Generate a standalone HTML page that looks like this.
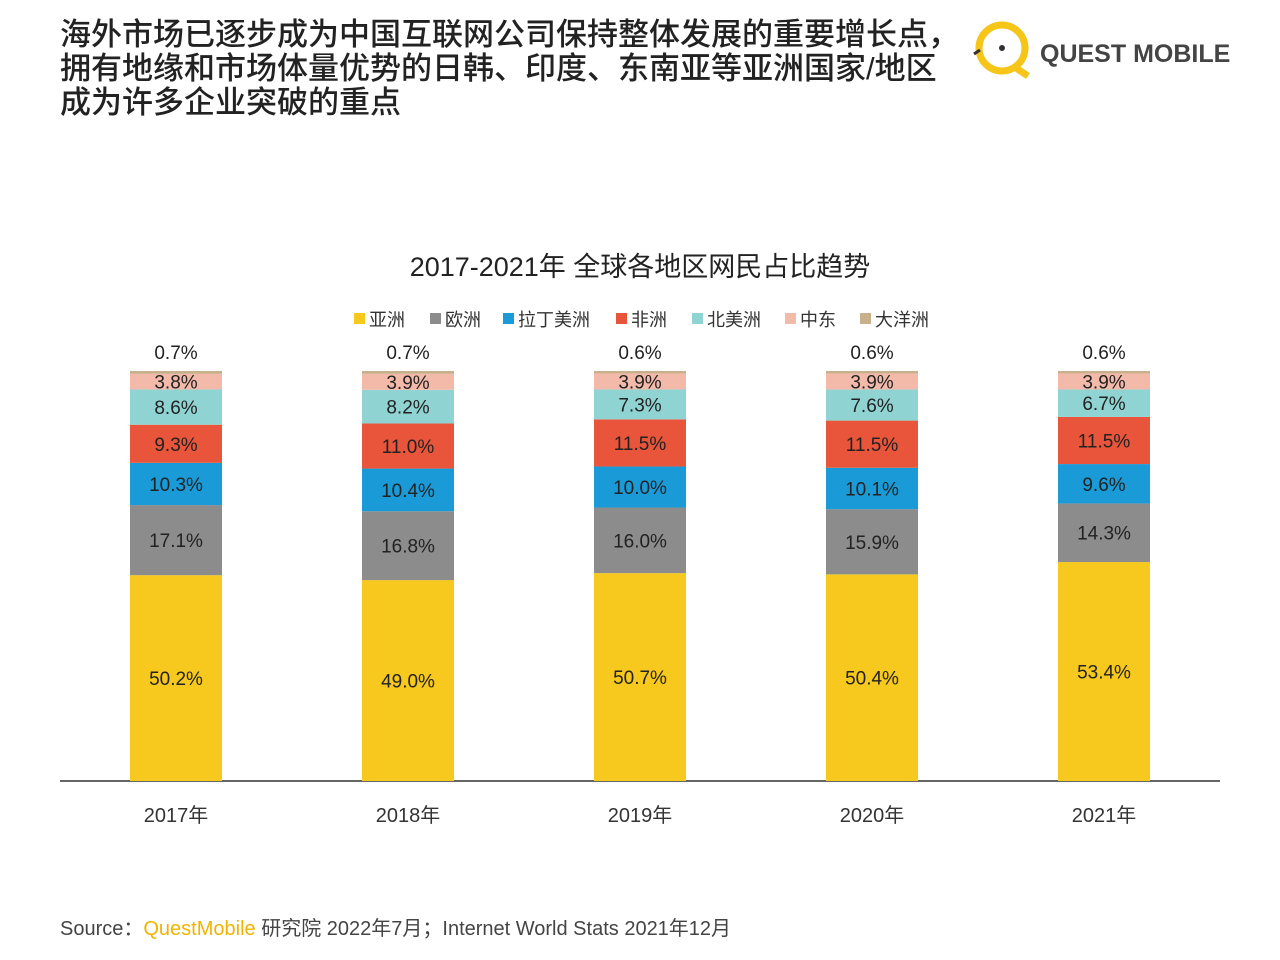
<!DOCTYPE html>
<html><head><meta charset="utf-8"><style>
body{margin:0;width:1280px;height:960px;background:#fff;font-family:"Liberation Sans","Noto Sans CJK SC",sans-serif;overflow:hidden;position:relative}
.h{position:absolute;left:60px;top:18px;font-size:31px;line-height:34px;color:#222;font-weight:500;letter-spacing:0px}
.logo{position:absolute;left:972px;top:20px}
.logotext{position:absolute;left:1040px;top:40px;font-size:25px;font-weight:bold;color:#444}
.src{position:absolute;left:60px;top:912px;font-size:20px;color:#444}
</style></head><body>
<div class="h">海外市场已逐步成为中国互联网公司保持整体发展的重要增长点，<br>拥有地缘和市场体量优势的日韩、印度、东南亚等亚洲国家/地区<br>成为许多企业突破的重点</div>
<svg class="logo" width="64" height="60"><circle cx="30" cy="28" r="23" fill="none" stroke="#f5c518" stroke-width="7"/><circle cx="30" cy="28" r="3" fill="#333"/><path d="M8 30 L2 34" stroke="#333" stroke-width="3"/><path d="M44 48 L56 56" stroke="#f5c518" stroke-width="7"/></svg>
<div class="logotext">QUEST MOBILE</div>
<svg id="chart" width="1280" height="960" style="position:absolute;left:0;top:0"></svg>
<div class="src">Source：<span style="color:#f0b400">QuestMobile</span> 研究院 2022年7月；Internet World Stats 2021年12月</div>
<script>
const categories=["2017年","2018年","2019年","2020年","2021年"];
const seriesNames=["亚洲","欧洲","拉丁美洲","非洲","北美洲","中东","大洋洲"];
const asia=[50.2,49.0,50.7,50.4,53.4];
const europe=[17.1,16.8,16.0,15.9,14.3];
const latam=[10.3,10.4,10.0,10.1,9.6];
const africa=[9.3,11.0,11.5,11.5,11.5];
const namerica=[8.6,8.2,7.3,7.6,6.7];
const mideast=[3.8,3.9,3.9,3.9,3.9];
const oceania=[0.7,0.7,0.6,0.6,0.6];
const series=[asia,europe,latam,africa,namerica,mideast,oceania];
const colors=["#f7c81e","#8c8c8c","#1b9ad8","#e8553a","#8fd4d2","#f4baa9","#c9b08c"];
const NS="http://www.w3.org/2000/svg",svg=document.getElementById("chart");
function mk(t,a,txt){const e=document.createElementNS(NS,t);for(const k in a)e.setAttribute(k,a[k]);if(txt!=null)e.textContent=txt;svg.appendChild(e);return e;}
const base=781,scale=4.1,x0=176,step=232,bw=92;
const y=v=>base-v*scale, xc=i=>x0+i*step;
let t=mk("text",{x:640,y:276,"text-anchor":"middle","font-size":27,fill:"#222"},"2017-2021年 全球各地区网民占比趋势");


const lx=[354,430,503,616,692,785,860];
seriesNames.forEach((n,k)=>{
 const r=mk("rect",{x:lx[k],y:313,width:11,height:11,fill:colors[k]});
 
 
 const tx=mk("text",{x:lx[k]+15,y:326,"font-size":18,fill:"#333"},n);
 
 
});
const ax=mk("line",{x1:60,x2:1220,y1:base,y2:base,stroke:"#333","stroke-width":1.5});


categories.forEach((c,i)=>{
 let cum=0;
 series.forEach((s,k)=>{
  const v=s[i],y1=y(cum),y2=y(cum+v);
  const r=mk("rect",{x:xc(i)-bw/2,y:y2,width:bw,height:y1-y2,fill:colors[k]});
  
  
  const ly=k==6?y2-12:(y1+y2)/2+7;
  const lb=mk("text",{x:xc(i),y:ly,"text-anchor":"middle","font-size":19,fill:"#222"},v.toFixed(1)+"%");
  
  
  cum+=v;
 });
 const xl=mk("text",{x:xc(i),y:822,"text-anchor":"middle","font-size":20,fill:"#333"},c);
 
 
});
</script>
</body></html>
